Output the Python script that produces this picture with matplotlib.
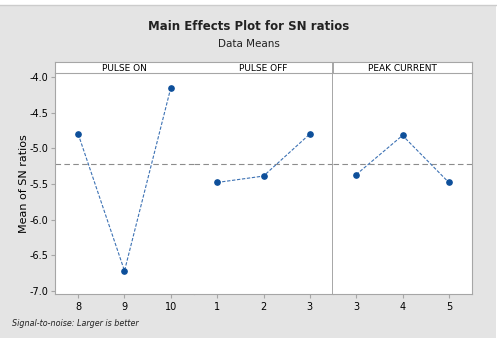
import matplotlib.pyplot as plt
from matplotlib.patches import Rectangle

# factor levels and SN ratio means
factors = ['PULSE ON', 'PULSE OFF', 'PEAK CURRENT']
levels = [['8', '9', '10'], ['1', '2', '3'], ['3', '4', '5']]
means = [[-4.80, -6.72, -4.15], [-5.48, -5.39, -4.80], [-5.37, -4.82, -5.48]]
grand_mean = -5.22
yticks = [-4.0, -4.5, -5.0, -5.5, -6.0, -6.5, -7.0]

line_c = '#3d72b4'
mark_c = '#0d4f9a'
spine_c = '#a6a6a6'

W, H = 497, 338
fig = plt.figure(figsize=(W / 100, H / 100), dpi=100, facecolor='#e4e4e4')
fig.patches.append(Rectangle((0, 1 - 5 / H), 1, 5 / H, transform=fig.transFigure,
                             facecolor='white', edgecolor='none', zorder=-5))
fig.patches.append(Rectangle((1 - 1.5 / W, 0), 1.5 / W, 1, transform=fig.transFigure,
                             facecolor='white', edgecolor='none', zorder=-5))
fig.add_artist(plt.Line2D([0, 1 - 1.5 / W], [1 - 5 / H, 1 - 5 / H], transform=fig.transFigure,
                          color='#cccccc', lw=1, zorder=-4))

left, pw = 55 / W, 139 / W
bot, top = 1 - 294 / H, 1 - 73 / H
htop = 1 - 62 / H

axes = []
for i in range(3):
    ax = fig.add_axes([left + i * pw, bot, pw, top - bot], sharey=axes[0] if axes else None)
    axes.append(ax)
    xs = range(len(levels[i]))
    ax.plot(xs, means[i], color=line_c, lw=0.8, ls=(0, (3, 1.5)), zorder=2)
    ax.plot(xs, means[i], 'o', color=mark_c, ms=3.8, zorder=3)
    ax.axhline(grand_mean, color='#8c8c8c', lw=0.8, ls=(0, (5, 3)), zorder=1)
    ax.set_xlim(-0.5, 2.5)
    ax.set_xticks(list(xs))
    ax.set_xticklabels(levels[i])
    ax.tick_params(axis='x', length=3, color=spine_c, labelsize=7, pad=3)
    for s in ax.spines.values():
        s.set_color(spine_c)
        s.set_linewidth(0.8)
    ax.spines['top'].set_visible(False)
    if i > 0:
        ax.tick_params(axis='y', left=False, labelleft=False)

axes[0].spines['right'].set_visible(False)
axes[1].spines['left'].set_visible(False)
axes[1].spines['right'].set_linewidth(1.4)
axes[2].spines['left'].set_visible(False)

axes[0].set_ylim(-7.045, -3.944)
axes[0].set_yticks(yticks)
axes[0].set_yticklabels(['%.1f' % v for v in yticks])
axes[0].tick_params(axis='y', length=3, color=spine_c, labelsize=7, pad=2)
axes[0].set_ylabel('Mean of SN ratios', fontsize=8, labelpad=0)

# header strip over the panels
hax = fig.add_axes([left, top, 3 * pw, htop - top])
hax.set_xlim(0, 3)
hax.set_ylim(0, 1)
hax.set_xticks([])
hax.set_yticks([])
for s in hax.spines.values():
    s.set_color(spine_c)
    s.set_linewidth(0.8)
hax.axvline(2, color=spine_c, lw=1.4)
for i, name in enumerate(factors):
    hax.text(i + 0.5, 0.45, name, ha='center', va='center', fontsize=6.5)

fig.text(0.5, 1 - 27 / H, 'Main Effects Plot for SN ratios', ha='center', va='center',
         fontsize=8.5, fontweight='bold', color='#222222')
fig.text(0.5, 1 - 44 / H, 'Data Means', ha='center', va='center', fontsize=7.5, color='#222222')
fig.text(12 / W, 1 - 324 / H, 'Signal-to-noise: Larger is better', ha='left', va='center',
         fontsize=5.8, style='italic', color='#222222')

fig.savefig('out.png', dpi=100)
